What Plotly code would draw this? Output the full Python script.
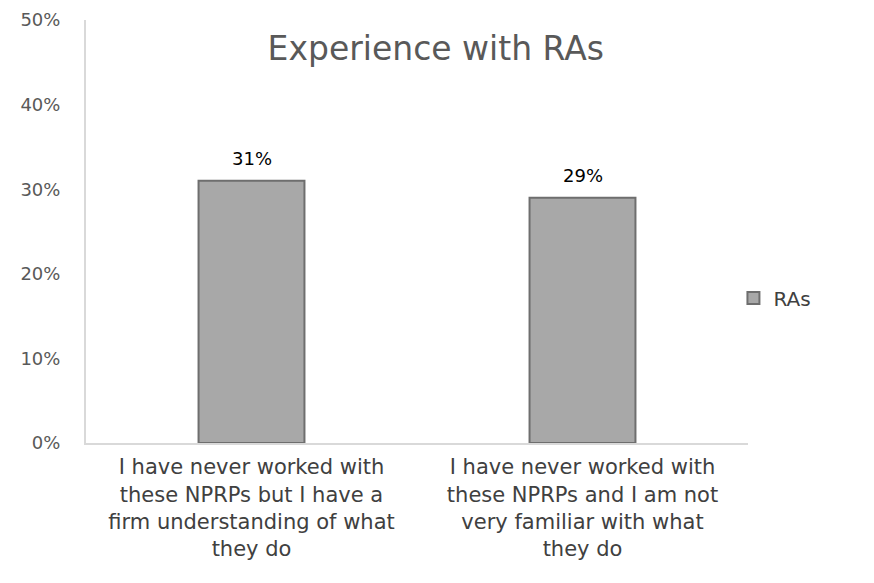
import plotly.graph_objects as go

categories = [
    "I have never worked with<br>these NPRPs but I have a<br>firm understanding of what<br>they do",
    "I have never worked with<br>these NPRPs and I am not<br>very familiar with what<br>they do",
]
values = [0.31, 0.29]
labels = ["31%", "29%"]
series_name = "RAs"

fig = go.Figure()
fig.add_trace(go.Bar(
    x=categories, y=values, name=series_name,
    marker=dict(color="#a8a8a8", line=dict(color="#6e6e6e", width=2)),
    width=0.32,
    showlegend=True,
))

for c, v, t in zip(categories, values, labels):
    fig.add_annotation(x=c, y=v, text=t, showarrow=False, yanchor="bottom",
                       yshift=10, font=dict(color="#000000", size=18, family="DejaVu Sans"))

fig.update_layout(
    width=866, height=575,
    margin=dict(l=78, r=126, t=12, b=140),
    paper_bgcolor="white", plot_bgcolor="white",
    font=dict(family="DejaVu Sans", color="#595959"),
    title=dict(text="Experience with RAs", x=0.494, xanchor="center", xref="container",
               y=0.930, yanchor="middle",
               font=dict(size=33, color="#595959", family="DejaVu Sans")),
    showlegend=True,
    legend=dict(x=0.978, xanchor="left", y=0.343, yanchor="middle",
                font=dict(size=20, color="#404040"), itemwidth=30),
    yaxis=dict(range=[0, 0.5], tickvals=[0, 0.1, 0.2, 0.3, 0.4, 0.5],
               ticktext=["0%", "10%", "20%", "30%", "40%", "50%"],
               showgrid=False, showline=True, linecolor="#d9d9d9", linewidth=2,
               ticks="", tickfont=dict(size=18, color="#595959"),
               ticklabelstandoff=20, zeroline=False, automargin=False,
               ticklabeloverflow="allow"),
    xaxis=dict(showgrid=False, showline=True, linecolor="#d9d9d9", linewidth=2,
               ticks="", tickfont=dict(size=21, color="#404040"), tickangle=0,
               automargin=False, ticklabelstandoff=4, ticklabeloverflow="allow"),
)

fig.write_html("out.html")
